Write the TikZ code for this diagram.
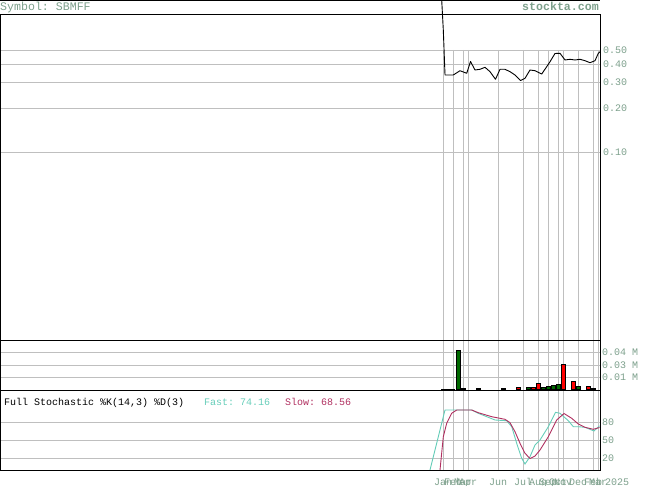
\documentclass[tikz,border=0pt]{standalone}
\usepackage{fontspec}
\setmonofont{Liberation Mono}
\usepackage{tikz}
\usetikzlibrary{positioning}

\definecolor{labelgreen}{RGB}{125,160,140}
\definecolor{fastcol}{RGB}{102,205,185}
\definecolor{slowcol}{RGB}{176,48,96}
\definecolor{upgreen}{RGB}{0,105,0}

\begin{document}
\begin{tikzpicture}[
    x=1pt, y=-1pt,
    gridline/.style={draw=black!25, line width=0.8pt},
    frameline/.style={draw=black, line width=1pt},
    axislabel/.style={
        font=\ttfamily\fontsize{10}{12}\selectfont, %axis text
        text=labelgreen,
        inner sep=0pt},
    monthlabel/.style={axislabel, anchor=base},
    volbar/.style={draw=black, line width=0.6pt},
    fastline/.style={draw=fastcol, line width=0.9pt},
    slowline/.style={draw=slowcol, line width=0.9pt}
  ]
  \useasboundingbox (0,0) rectangle (655,486);

  % grid of the price panel (log scale)
  \foreach \y/\lab [count=\i] in {50/0.50, 64/0.40, 82/0.30, 108/0.20, 152/0.10} {
      \draw[gridline] (0,\y) -- (600,\y);
      \node (plab\i) [axislabel, anchor=west] at (603,\y) {\lab};
    }
  % grid of the volume panel
  \foreach \y/\lab [count=\i] in {352/0.04 M, 365/0.03 M, 377/0.01 M} {
      \draw[gridline] (0,\y) -- (600,\y);
      \node (vlab\i) [axislabel, anchor=west] at (602,\y) {\lab};
    }
  % grid of the stochastic panel
  \foreach \y/\lab [count=\i] in {422.3/80, 440.3/50, 458.3/20} {
      \draw[gridline] (0,\y) -- (600,\y);
      \node (slab\i) [axislabel, anchor=west] at (602,\y) {\lab};
    }
  % month lines and labels
  \foreach \x/\mon [count=\i] in {443/Jan, 453/Feb, 463/Mar, 468/Apr, 498/Jun, 523/Jul,
      538/Aug, 548/Sep, 558/Oct, 563/Nov, 578/Dec, 593/Feb, 598/Mar} {
      \draw[gridline] (\x,50) -- (\x,470);
      \node (mon\i) [monthlabel] at (\x,485) {\mon};
    }
  \node (year) [monthlabel] at (617,485) {2025};

  % volume bars
  \foreach \x/\top/\col in {456/350/upgreen, 461/388.3/red, 476/388.3/upgreen,
      501/388.3/upgreen, 516/387.3/red, 526/387.3/upgreen, 531/387.3/red,
      536/383.3/red, 541/387/upgreen, 546/386/upgreen, 551/385/upgreen,
      556/384/upgreen, 561/364/red, 571/381/red, 576/386/upgreen,
      586/386/red, 591/388.3/upgreen} {
      \filldraw[volbar, fill=\col] (\x,389.5) rectangle ++(4.5,\top-389.5);
    }
  \draw[line width=0.8pt] (441,389) -- (455,389);

  % price line
  \draw[line width=0.9pt, line join=round]
  (441.7,0) -- (443.3,30) -- (445,75) -- (453.3,75) -- (460,70.7) -- (466.7,73.3)
  -- (470.5,61.5) -- (475,70) -- (480,69.3) -- (485,67.3) -- (490,71.7)
  -- (495.5,79.3) -- (500,69.3) -- (505,69.3) -- (510,71.7) -- (515,75)
  -- (520.5,80.5) -- (525,78.3) -- (530,70) -- (535,70.7) -- (541.7,74)
  -- (546.7,66.7) -- (550,61.7) -- (555,53.5) -- (560,53.3) -- (565,60)
  -- (570,59.3) -- (575,60) -- (580,59.3) -- (585,60.7) -- (590,62.7)
  -- (595,60.7) -- (598.3,53.3) -- (600,51.7);

  % stochastic lines
  \draw[fastline] (430,470) -- (445,410) -- (471.7,410) -- (478.3,413.3)
  -- (495,420) -- (506.7,420.7) -- (511.7,426.7) -- (516.7,443.3)
  -- (521.7,458.3) -- (525,464) -- (530,456.7) -- (535,445) -- (540,440)
  -- (548.3,426.7) -- (555.5,412.3) -- (560,413.3) -- (568.3,420.7)
  -- (573.3,426.7) -- (578.3,426.7) -- (585,427.3) -- (594,431) -- (599.5,425.8);
  \draw[slowline] (440,470) -- (443.3,436.7) -- (446.7,423.3) -- (451.7,413.3)
  -- (456.7,410) -- (471.7,410) -- (478.3,412.7) -- (491.7,416.7)
  -- (505,419.3) -- (510,422.7) -- (515,431.7) -- (520,443.3) -- (525,453.3)
  -- (530,458.5) -- (535,456) -- (540,450) -- (548.3,436.7) -- (556.7,420)
  -- (564,413.5) -- (571.7,418.3) -- (578.3,424) -- (585,427.3)
  -- (593.3,429.3) -- (599.5,427.5);

  % frames
  \draw[frameline] (0,0.5) -- (600,0.5);
  \draw[frameline] (0,15) rectangle (600,470);
  \draw[frameline] (0,340) -- (600,340);
  \draw[frameline] (0,390) -- (600,390);

  % titles
  \node (symbol) [anchor=base west, inner sep=0pt, text=labelgreen,
    font=\ttfamily\fontsize{11.6}{13}\selectfont] at (0,10.5) {Symbol: SBMFF};
  \node (site) [anchor=base east, inner sep=0pt, text=labelgreen,
    font=\ttfamily\bfseries\fontsize{11.6}{13}\selectfont] at (599,10.5) {stockta.com};
  \node (stoch) [anchor=base west, inner sep=0pt,
    font=\ttfamily\fontsize{10}{12}\selectfont] at (4,405.7) {Full Stochastic \%K(14,3) \%D(3)};
  \node (fast) [anchor=base west, inner sep=0pt, text=fastcol,
    font=\ttfamily\fontsize{10}{12}\selectfont] at (204,405.7) {Fast: 74.16};
  \node (slow) [anchor=base west, inner sep=0pt, text=slowcol,
    font=\ttfamily\fontsize{10}{12}\selectfont] at (285,405.7) {Slow: 68.56};
\end{tikzpicture}
\end{document}
